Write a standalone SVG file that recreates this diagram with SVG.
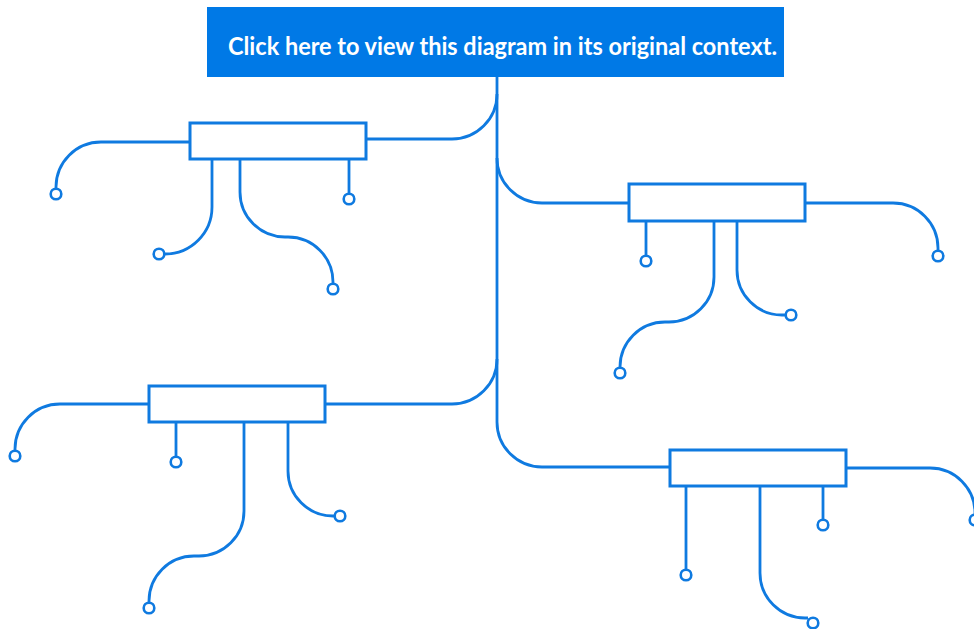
<svg xmlns="http://www.w3.org/2000/svg" width="974" height="629" viewBox="0 0 974 629">
<style>
.c{fill:none;stroke:#0f7ae0;stroke-width:2.8}
.b{fill:#fff;stroke:#0f7ae0;stroke-width:3}
.d{fill:#fff;stroke:#0f7ae0;stroke-width:2.6}
.t{font-family:"Lato","Liberation Sans",sans-serif;font-weight:bold;font-size:25px;fill:#fff}
</style>
<rect width="974" height="629" fill="#fff"/>
<g id="banner">
<rect x="207" y="7" width="577" height="70" fill="#0079e6"/>
<text class="t" x="228" y="55" textLength="549" lengthAdjust="spacingAndGlyphs">Click here to view this diagram in its original context.</text>
</g>
<g id="connectors">
<path class="c" d="M497,77 V422 A45,45 0 0 0 542,467 H670"/>
<path class="c" d="M366,139 H452 A45,45 0 0 0 497,94"/>
<path class="c" d="M497,158 A45,45 0 0 0 542,203 H629"/>
<path class="c" d="M325,404 H452 A45,45 0 0 0 497,359"/>
<path class="c" d="M190,142 H101 A45,45 0 0 0 56,187 V189"/>
<path class="c" d="M212,159 V207 A47,47 0 0 1 165,254 H164"/>
<path class="c" d="M240,159 V192 A45,45 0 0 0 285,237 H288 A45,45 0 0 1 333,282 V284"/>
<path class="c" d="M349,159 V194"/>
<path class="c" d="M805,203 H893 A45,45 0 0 1 938,248 V251"/>
<path class="c" d="M646,221 V256"/>
<path class="c" d="M714,221 V277 A45,45 0 0 1 669,322 H665 A45,45 0 0 0 620,367 V368"/>
<path class="c" d="M737,221 V270 A45,45 0 0 0 782,315 H786"/>
<path class="c" d="M149,404 H60 A45,45 0 0 0 15,449 V451"/>
<path class="c" d="M176,422 V457"/>
<path class="c" d="M244,422 V511 A45,45 0 0 1 199,556 H194 A45,45 0 0 0 149,601 V603"/>
<path class="c" d="M288,422 V471 A45,45 0 0 0 333,516 H335"/>
<path class="c" d="M846,468 H930 A45,45 0 0 1 975,513 V515"/>
<path class="c" d="M686,486 V570"/>
<path class="c" d="M760,486 V573 A45,45 0 0 0 805,618 H808"/>
<path class="c" d="M823,486 V520"/>
</g>
<g id="node1"><rect class="b" x="190" y="123" width="176" height="36"/></g>
<g id="node2"><rect class="b" x="629" y="184" width="176" height="37"/></g>
<g id="node3"><rect class="b" x="149" y="386" width="176" height="36"/></g>
<g id="node4"><rect class="b" x="670" y="450" width="176" height="36"/></g>
<g id="ends">
<circle class="d" cx="56" cy="194" r="5.3"/>
<circle class="d" cx="159" cy="254" r="5.3"/>
<circle class="d" cx="333" cy="289" r="5.3"/>
<circle class="d" cx="349" cy="199" r="5.3"/>
<circle class="d" cx="938" cy="256" r="5.3"/>
<circle class="d" cx="646" cy="261" r="5.3"/>
<circle class="d" cx="620" cy="373" r="5.3"/>
<circle class="d" cx="791" cy="315" r="5.3"/>
<circle class="d" cx="15" cy="456" r="5.3"/>
<circle class="d" cx="176" cy="462" r="5.3"/>
<circle class="d" cx="149" cy="608" r="5.3"/>
<circle class="d" cx="340" cy="516" r="5.3"/>
<circle class="d" cx="975" cy="520" r="5.3"/>
<circle class="d" cx="686" cy="575" r="5.3"/>
<circle class="d" cx="813" cy="623" r="5.3"/>
<circle class="d" cx="823" cy="525" r="5.3"/>
</g>
</svg>
